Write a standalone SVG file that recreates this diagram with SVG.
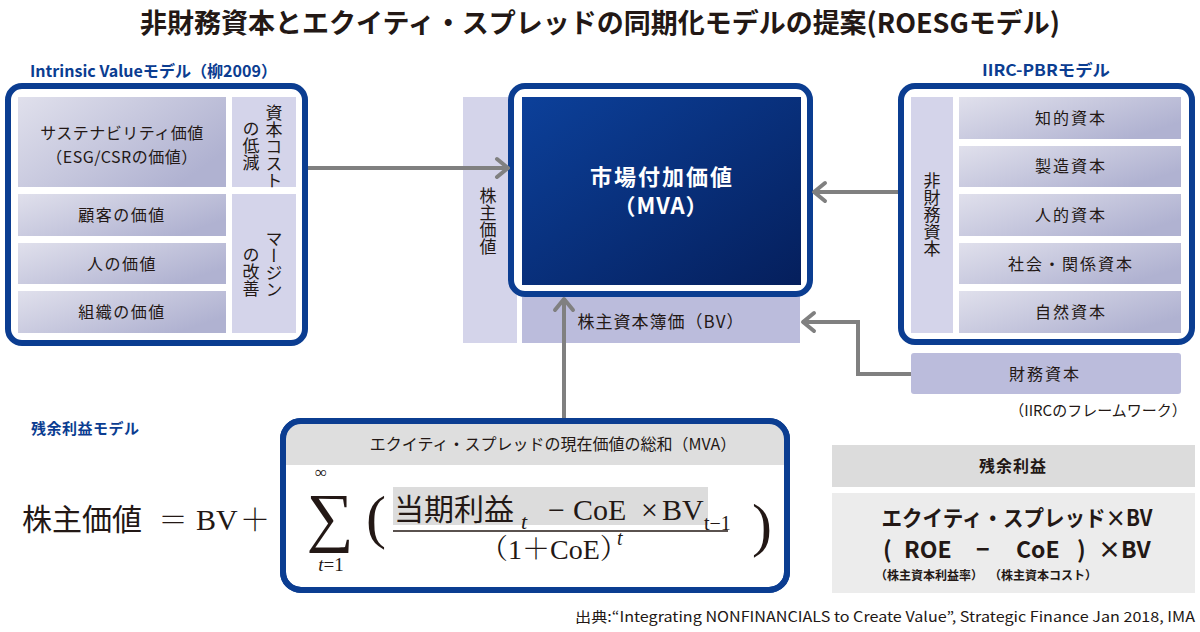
<svg xmlns="http://www.w3.org/2000/svg" width="1200" height="632" viewBox="0 0 1200 632">
<style>
.jp{font-family:"Noto Sans CJK JP","Liberation Sans",sans-serif;fill:#231815}
.bl{fill:#0b3d91;font-weight:bold}
.frame{fill:#fff;stroke:#0b3d91;stroke-width:6}
.col{fill:#d4d4ea}
.bar{fill:#bbbcdc}
.cell{fill:url(#cg)}
.lbl{font-size:16px;letter-spacing:1.5px;text-anchor:middle}
.vt{writing-mode:vertical-rl;font-size:17px;letter-spacing:0px}
.con{fill:none;stroke:#808080;stroke-width:4}
.ser{font-family:"Liberation Serif","Noto Serif CJK JP",serif;fill:#231815}
</style>
<defs>
<linearGradient id="cg" x1="0" y1="0" x2="1" y2="0.6">
<stop offset="0" stop-color="#e0e0ec"/>
<stop offset="1" stop-color="#b0b2d1"/>
</linearGradient>
<linearGradient id="dg" x1="0" y1="0" x2="1" y2="1">
<stop offset="0" stop-color="#0c409a"/>
<stop offset="1" stop-color="#051f5c"/>
</linearGradient>
<marker id="ah" markerUnits="userSpaceOnUse" markerWidth="30" markerHeight="30" viewBox="-16 -15 20 30" refX="0" refY="0" orient="auto">
<path d="M-12,-9 L-1,0 L-12,9" fill="none" stroke="#808080" stroke-width="4" stroke-linecap="round" stroke-linejoin="round"/>
</marker>
</defs>
<rect width="1200" height="632" fill="#fff"/>

<text class="jp" x="600" y="33" text-anchor="middle" font-size="27" font-weight="bold" textLength="920" lengthAdjust="spacingAndGlyphs">非財務資本とエクイティ・スプレッドの同期化モデルの提案(ROESGモデル)</text>

<!-- Intrinsic Value model -->
<g id="intrinsic">
<text class="jp bl" x="30" y="77" font-size="16" textLength="247" lengthAdjust="spacingAndGlyphs">Intrinsic Valueモデル（柳2009）</text>
<rect class="frame" x="8" y="86" width="297" height="257" rx="14"/>
<rect class="cell" x="18" y="97" width="208" height="90"/>
<rect class="cell" x="18" y="194" width="208" height="42"/>
<rect class="cell" x="18" y="243" width="208" height="41"/>
<rect class="cell" x="18" y="291" width="208" height="42"/>
<rect class="col" x="232" y="97" width="64" height="90"/>
<rect class="col" x="232" y="194" width="64" height="139"/>
<text class="jp lbl" x="122" y="139" style="letter-spacing:0.5px">サステナビリティ価値</text>
<text class="jp lbl" x="122" y="163" style="letter-spacing:0.5px">（ESG/CSRの価値）</text>
<text class="jp lbl" x="122" y="221">顧客の価値</text>
<text class="jp lbl" x="122" y="270">人の価値</text>
<text class="jp lbl" x="122" y="318">組織の価値</text>
<text class="jp vt" x="274" y="104" font-size="16">資本コスト</text>
<text class="jp vt" x="251" y="120" font-size="16">の低減</text>
<text class="jp vt" x="274" y="230" font-size="16">マージン</text>
<text class="jp vt" x="251" y="246" font-size="16">の改善</text>
</g>

<!-- shareholder value column -->
<g id="shareholder-value">
<rect class="col" x="463" y="97" width="54" height="246"/>
<text class="jp vt" x="488" y="187">株主価値</text>
</g>

<!-- BV bar -->
<g id="bv">
<rect class="bar" x="522" y="297" width="278" height="46"/>
<text class="jp" x="661" y="328" text-anchor="middle" font-size="17" letter-spacing="1">株主資本簿価（BV）</text>
</g>

<!-- MVA -->
<g id="mva">
<rect class="frame" x="511" y="86" width="299" height="208" rx="14"/>
<rect x="522" y="97" width="279" height="188" fill="url(#dg)"/>
<text class="jp" x="662" y="185" text-anchor="middle" font-size="22" font-weight="bold" letter-spacing="2" style="fill:#fff">市場付加価値</text>
<text class="jp" x="661" y="214" text-anchor="middle" font-size="22" font-weight="bold" letter-spacing="1" style="fill:#fff">（MVA）</text>
</g>

<!-- IIRC-PBR model -->
<g id="iirc">
<text class="jp bl" x="1046" y="76" text-anchor="middle" font-size="16" textLength="128" lengthAdjust="spacingAndGlyphs">IIRC-PBRモデル</text>
<rect class="frame" x="901" y="86" width="291" height="256" rx="14"/>
<rect class="col" x="911" y="97" width="42" height="236"/>
<text class="jp vt" x="932" y="172">非財務資本</text>
<rect class="cell" x="959" y="97" width="222" height="42"/>
<rect class="cell" x="959" y="146" width="222" height="41"/>
<rect class="cell" x="959" y="194" width="222" height="42"/>
<rect class="cell" x="959" y="243" width="222" height="41"/>
<rect class="cell" x="959" y="291" width="222" height="42"/>
<text class="jp lbl" x="1071" y="124" style="letter-spacing:2px">知的資本</text>
<text class="jp lbl" x="1071" y="172" style="letter-spacing:2px">製造資本</text>
<text class="jp lbl" x="1071" y="221" style="letter-spacing:2px">人的資本</text>
<text class="jp lbl" x="1071" y="270" style="letter-spacing:2px">社会・関係資本</text>
<text class="jp lbl" x="1071" y="318" style="letter-spacing:2px">自然資本</text>
</g>

<g id="financial-capital">
<rect class="bar" x="911" y="353" width="270" height="41" rx="3"/>
<text class="jp lbl" x="1045" y="380" style="letter-spacing:2px">財務資本</text>
<text class="jp" x="1098" y="416" text-anchor="middle" font-size="15">（IIRCのフレームワーク）</text>
</g>

<!-- residual income model -->
<g id="ri-model">
<text class="jp bl" x="31" y="434" font-size="15" letter-spacing="0.5">残余利益モデル</text>
<text class="jp" x="22" y="530" font-size="30">株主価値</text>
<text class="ser" x="158" y="530" font-size="30">＝</text>
<text class="ser" x="196" y="530" font-size="30">BV</text>
<text class="ser" x="240" y="530" font-size="30">＋</text>
</g>

<g id="formula">
<rect class="frame" x="283" y="421" width="504" height="169" rx="18"/>
<path d="M286,465 V438 Q286,424 300,424 H770 Q784,424 784,438 V465 Z" fill="#dedede"/>
<rect x="283" y="421" width="504" height="169" rx="18" fill="none" stroke="#0b3d91" stroke-width="6"/>
<text class="jp" x="553" y="450" text-anchor="middle" font-size="16">エクイティ・スプレッドの現在価値の総和（MVA）</text>
<text class="ser" x="321" y="478" text-anchor="middle" font-size="17">∞</text>
<text class="ser" x="330" y="539" text-anchor="middle" font-size="66">∑</text>
<text class="ser" x="331" y="571" text-anchor="middle" font-size="19"><tspan font-style="italic">t</tspan>=1</text>
<text class="ser" x="366" y="537" font-size="60">(</text>
<rect x="393" y="487" width="315" height="38" fill="#dcdcdc"/>
<text class="jp" x="394" y="520" font-size="30">当期利益</text>
<text class="ser" x="521" y="529" font-size="22" font-style="italic">t</text>
<text class="ser" x="548" y="520" font-size="30">−</text>
<text class="ser" x="573" y="520" font-size="30">CoE</text>
<text class="ser" x="641" y="520" font-size="30">×</text>
<text class="ser" x="662" y="520" font-size="30">BV</text>
<text class="ser" x="704" y="530" font-size="20">t−1</text>
<line x1="393" y1="531" x2="728" y2="531" stroke="#231815" stroke-width="1.5"/>
<text class="ser" x="480" y="559" font-size="28">（1＋CoE）</text>
<text class="ser" x="617" y="545" font-size="20" font-style="italic">t</text>
<text class="ser" x="752" y="545" font-size="60">)</text>
</g>

<!-- residual income box -->
<g id="residual-income">
<rect x="832" y="445" width="363" height="42" fill="#dcdcdc"/>
<text class="jp" x="1013" y="472" text-anchor="middle" font-size="16" font-weight="bold" letter-spacing="1">残余利益</text>
<rect x="832" y="493" width="363" height="100" fill="#ececec"/>
<text class="jp" x="1017" y="526" text-anchor="middle" font-size="22" font-weight="bold" textLength="271" lengthAdjust="spacingAndGlyphs">エクイティ・スプレッド×BV</text>
<g class="jp" font-size="23" font-weight="bold">
<text x="883" y="558" class="jp">(</text>
<text x="904" y="558" class="jp">ROE</text>
<text x="976" y="558" class="jp">−</text>
<text x="1016" y="558" class="jp">CoE</text>
<text x="1077" y="558" class="jp">)</text>
<text x="1098" y="558" class="jp">×BV</text>
</g>
<text class="jp" x="875" y="580" font-size="12" font-weight="bold">（株主資本利益率）</text>
<text class="jp" x="989" y="580" font-size="12" font-weight="bold">（株主資本コスト）</text>
</g>

<text class="jp" x="1195" y="622" text-anchor="end" font-size="14" textLength="620" lengthAdjust="spacingAndGlyphs">出典:“Integrating NONFINANCIALS to Create Value”, Strategic Finance Jan 2018, IMA</text>

<!-- connectors -->
<g id="connectors">
<line class="con" x1="308" y1="168" x2="509" y2="168" marker-end="url(#ah)"/>
<line class="con" x1="898" y1="192" x2="813" y2="192" marker-end="url(#ah)"/>
<polyline class="con" points="911,374 858,374 858,322 802,322" marker-end="url(#ah)"/>
<line class="con" x1="564" y1="418" x2="564" y2="298" marker-end="url(#ah)"/>
</g>
</svg>
